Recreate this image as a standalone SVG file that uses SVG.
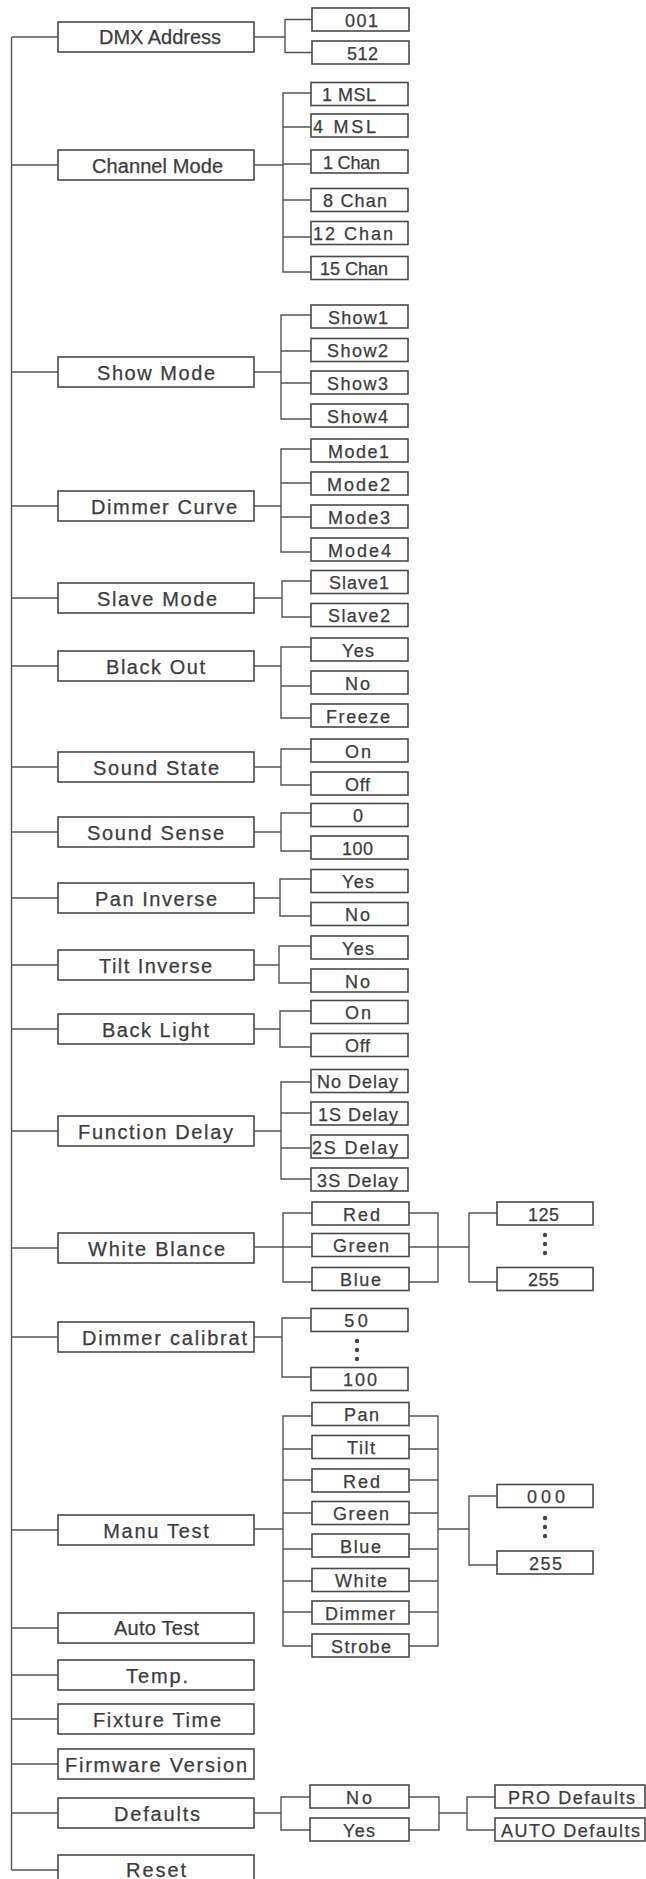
<svg xmlns="http://www.w3.org/2000/svg" width="646" height="1879" viewBox="0 0 646 1879">
<style>
.b{fill:#fff;stroke:#4a4a4a;stroke-width:1.6}
.c{fill:none;stroke:#555;stroke-width:1.4}
.t{font-family:"Liberation Sans",Arial,sans-serif;font-size:20px;fill:#3c3c3c;stroke:#3c3c3c;stroke-width:0.25;text-anchor:middle}
.s{font-size:18px}
.d{fill:#444}
</style>
<rect width="646" height="1879" fill="#fff"/>
<g id="connectors" class="c">
<path d="M11.5,37V1870"/>
<path d="M11.5,37H58M11.5,165H58M11.5,372H58M11.5,506H58M11.5,598H58M11.5,666H58M11.5,767H58M11.5,832H58M11.5,898H58M11.5,965H58M11.5,1029H58M11.5,1131H58M11.5,1248H58M11.5,1337H58M11.5,1530H58M11.5,1628H58M11.5,1675H58M11.5,1719H58M11.5,1764H58M11.5,1813H58M11.5,1870H58"/>
<path d="M254,37H285M312,19.5H285V52.5H312"/>
<path d="M254,165H283M311,93H283V272H311M283,127H311M283,164H311M283,200H311M283,237H311"/>
<path d="M254,372H281M311,315H281V419H311M281,351H311M281,383H311"/>
<path d="M254,506H281M311,449H281V552H311M281,483H311M281,517H311"/>
<path d="M254,598H282M311,581H282V617H311"/>
<path d="M254,666H281M311,647H281V718H311M281,686H311"/>
<path d="M254,767H281M311,749H281V785H311"/>
<path d="M254,832H281M311,813H281V851H311"/>
<path d="M254,898H280M311,879H280V916H311"/>
<path d="M254,965H279M311,946H279V983H311"/>
<path d="M254,1029H280M311,1011H280V1047H311"/>
<path d="M254,1131H281M311,1082H281V1179H311M281,1113H311M281,1148H311"/>
<path d="M254,1247H312M312,1213H283V1282H312"/>
<path d="M409,1213H438V1282H409M409,1247H469M497,1213H469V1282H497"/>
<path d="M254,1337H282M311,1318H282V1377H311"/>
<path d="M254,1529H283M312,1416H283V1646H312M283,1449H312M283,1480H312M283,1513H312M283,1549H312M283,1581H312M283,1612H312"/>
<path d="M409,1416H438V1646H409M409,1449H438M409,1480H438M409,1513H438M409,1549H438M409,1581H438M409,1612H438M438,1529H469M497,1496H469V1565H497"/>
<path d="M254,1813H281M310,1797H281V1830H310"/>
<path d="M409,1797H439V1830H409M439,1813H467M495,1797H467V1830H495"/>
</g>
<g id="n-dmx"><rect class="b" x="58" y="22" width="196" height="30"/><text class="t" x="160" y="44" font-size="17" textLength="122">DMX Address</text></g>
<g id="n-001"><rect class="b" x="312" y="8" width="97" height="23"/><text class="t s" x="361.5" y="26.5" textLength="33">001</text></g>
<g id="n-512"><rect class="b" x="312" y="41" width="97" height="23"/><text class="t s" x="362.5" y="59.5" textLength="31">512</text></g>
<g id="n-channel"><rect class="b" x="58" y="150" width="196" height="30"/><text class="t" x="157.5" y="172.5" textLength="131">Channel Mode</text></g>
<g id="n-1msl"><rect class="b" x="311" y="82.5" width="97" height="23"/><text class="t s" x="349" y="101" textLength="54">1 MSL</text></g>
<g id="n-4msl"><rect class="b" x="311" y="114" width="97" height="23"/><text class="t s" x="344.5" y="132.5" textLength="63">4 MSL</text></g>
<g id="n-1chan"><rect class="b" x="311" y="150" width="97" height="23"/><text class="t s" x="351.5" y="168.5" textLength="57">1 Chan</text></g>
<g id="n-8chan"><rect class="b" x="311" y="188.5" width="97" height="23"/><text class="t s" x="355" y="207" textLength="64">8 Chan</text></g>
<g id="n-12chan"><rect class="b" x="311" y="221.5" width="97" height="23"/><text class="t s" x="353" y="240" textLength="80">12 Chan</text></g>
<g id="n-15chan"><rect class="b" x="311" y="256.5" width="97" height="23"/><text class="t s" x="354" y="275" textLength="68">15 Chan</text></g>
<g id="n-show"><rect class="b" x="58" y="357" width="196" height="30"/><text class="t" x="156" y="379.5" textLength="118">Show Mode</text></g>
<g id="n-show1"><rect class="b" x="311" y="305" width="97" height="23"/><text class="t s" x="358" y="323.5" textLength="60">Show1</text></g>
<g id="n-show2"><rect class="b" x="311" y="338.5" width="97" height="23"/><text class="t s" x="357.5" y="357" textLength="61">Show2</text></g>
<g id="n-show3"><rect class="b" x="311" y="371" width="97" height="23"/><text class="t s" x="357.5" y="389.5" textLength="61">Show3</text></g>
<g id="n-show4"><rect class="b" x="311" y="404" width="97" height="23"/><text class="t s" x="357.5" y="422.5" textLength="61">Show4</text></g>
<g id="n-dimcurve"><rect class="b" x="58" y="491" width="196" height="30"/><text class="t" x="164" y="513.5" textLength="146">Dimmer Curve</text></g>
<g id="n-mode1"><rect class="b" x="311" y="439" width="97" height="23"/><text class="t s" x="358.5" y="457.5" textLength="61">Mode1</text></g>
<g id="n-mode2"><rect class="b" x="311" y="472" width="97" height="23"/><text class="t s" x="358.5" y="490.5" textLength="63">Mode2</text></g>
<g id="n-mode3"><rect class="b" x="311" y="505" width="97" height="23"/><text class="t s" x="359" y="523.5" textLength="62">Mode3</text></g>
<g id="n-mode4"><rect class="b" x="311" y="538" width="97" height="23"/><text class="t s" x="359.5" y="556.5" textLength="63">Mode4</text></g>
<g id="n-slave"><rect class="b" x="58" y="583" width="196" height="30"/><text class="t" x="157" y="605.5" textLength="120">Slave Mode</text></g>
<g id="n-slave1"><rect class="b" x="311" y="570.5" width="97" height="23"/><text class="t s" x="359" y="589" textLength="60">Slave1</text></g>
<g id="n-slave2"><rect class="b" x="311" y="603.5" width="97" height="23"/><text class="t s" x="359" y="622" textLength="62">Slave2</text></g>
<g id="n-blackout"><rect class="b" x="58" y="651" width="196" height="30"/><text class="t" x="155.5" y="673.5" textLength="99">Black Out</text></g>
<g id="n-bo-yes"><rect class="b" x="311" y="638" width="97" height="23"/><text class="t s" x="358" y="656.5" textLength="32">Yes</text></g>
<g id="n-bo-no"><rect class="b" x="311" y="671" width="97" height="23"/><text class="t s" x="357.5" y="689.5" textLength="25">No</text></g>
<g id="n-freeze"><rect class="b" x="311" y="704" width="97" height="23"/><text class="t s" x="358" y="722.5" textLength="64">Freeze</text></g>
<g id="n-soundstate"><rect class="b" x="58" y="752" width="196" height="30"/><text class="t" x="156" y="774.5" textLength="126">Sound State</text></g>
<g id="n-ss-on"><rect class="b" x="311" y="739" width="97" height="23"/><text class="t s" x="358" y="757.5" textLength="26">On</text></g>
<g id="n-ss-off"><rect class="b" x="311" y="772" width="97" height="23"/><text class="t s" x="357.5" y="790.5" textLength="25">Off</text></g>
<g id="n-soundsense"><rect class="b" x="58" y="817" width="196" height="30"/><text class="t" x="155.5" y="839.5" textLength="137">Sound Sense</text></g>
<g id="n-sen-0"><rect class="b" x="311" y="803.5" width="97" height="23"/><text class="t s" x="358" y="822" textLength="10">0</text></g>
<g id="n-sen-100"><rect class="b" x="311" y="836" width="97" height="23"/><text class="t s" x="357.5" y="854.5" textLength="31">100</text></g>
<g id="n-pan"><rect class="b" x="58" y="883" width="196" height="30"/><text class="t" x="156" y="905.5" textLength="122">Pan Inverse</text></g>
<g id="n-pan-yes"><rect class="b" x="311" y="869.5" width="97" height="23"/><text class="t s" x="358" y="888" textLength="32">Yes</text></g>
<g id="n-pan-no"><rect class="b" x="311" y="902.5" width="97" height="23"/><text class="t s" x="357.5" y="921" textLength="25">No</text></g>
<g id="n-tilt"><rect class="b" x="58" y="950" width="196" height="30"/><text class="t" x="155.5" y="972.5" textLength="113">Tilt Inverse</text></g>
<g id="n-tilt-yes"><rect class="b" x="311" y="936" width="97" height="23"/><text class="t s" x="358" y="954.5" textLength="32">Yes</text></g>
<g id="n-tilt-no"><rect class="b" x="311" y="969" width="97" height="23"/><text class="t s" x="357.5" y="987.5" textLength="25">No</text></g>
<g id="n-backlight"><rect class="b" x="58" y="1014" width="196" height="30"/><text class="t" x="155.5" y="1036.5" textLength="107">Back Light</text></g>
<g id="n-bl-on"><rect class="b" x="311" y="1000.5" width="97" height="23"/><text class="t s" x="358" y="1019" textLength="26">On</text></g>
<g id="n-bl-off"><rect class="b" x="311" y="1033.5" width="97" height="23"/><text class="t s" x="357.5" y="1052" textLength="25">Off</text></g>
<g id="n-fdelay"><rect class="b" x="58" y="1116" width="196" height="30"/><text class="t" x="155.5" y="1138.5" textLength="155">Function Delay</text></g>
<g id="n-nodelay"><rect class="b" x="311" y="1069.5" width="97" height="23"/><text class="t s" x="357.5" y="1088" textLength="81">No Delay</text></g>
<g id="n-1sdelay"><rect class="b" x="311" y="1102" width="97" height="23"/><text class="t s" x="358" y="1120.5" textLength="80">1S Delay</text></g>
<g id="n-2sdelay"><rect class="b" x="311" y="1135" width="97" height="23"/><text class="t s" x="355" y="1153.5" textLength="86">2S Delay</text></g>
<g id="n-3sdelay"><rect class="b" x="311" y="1168" width="97" height="23"/><text class="t s" x="357.5" y="1186.5" textLength="81">3S Delay</text></g>
<g id="n-wb"><rect class="b" x="58" y="1233" width="196" height="30"/><text class="t" x="156.5" y="1255.5" textLength="137">White Blance</text></g>
<g id="n-wb-red"><rect class="b" x="312" y="1202" width="97" height="23"/><text class="t s" x="361.5" y="1220.5" textLength="37">Red</text></g>
<g id="n-wb-green"><rect class="b" x="312" y="1233.5" width="97" height="23"/><text class="t s" x="361" y="1252" textLength="56">Green</text></g>
<g id="n-wb-blue"><rect class="b" x="312" y="1267.5" width="97" height="23"/><text class="t s" x="360.5" y="1286" textLength="41">Blue</text></g>
<g id="n-wb-125"><rect class="b" x="497" y="1202" width="96" height="23"/><text class="t s" x="543.5" y="1220.5" textLength="31">125</text></g>
<g id="n-wb-dots" class="d"><circle cx="545" cy="1235" r="2.2"/><circle cx="545" cy="1244" r="2.2"/><circle cx="545" cy="1253" r="2.2"/></g>
<g id="n-wb-255"><rect class="b" x="497" y="1267.5" width="96" height="23"/><text class="t s" x="543.5" y="1286" textLength="31">255</text></g>
<g id="n-dimcal"><rect class="b" x="58" y="1322" width="196" height="30"/><text class="t" x="164.5" y="1344.5" textLength="165">Dimmer calibrat</text></g>
<g id="n-dc-50"><rect class="b" x="311" y="1308.5" width="97" height="23"/><text class="t s" x="356" y="1327" textLength="23.5">50</text></g>
<g id="n-dc-dots" class="d"><circle cx="357" cy="1341" r="2.2"/><circle cx="357" cy="1350" r="2.2"/><circle cx="357" cy="1359" r="2.2"/></g>
<g id="n-dc-100"><rect class="b" x="311" y="1367.5" width="97" height="23"/><text class="t s" x="360" y="1386" textLength="34">100</text></g>
<g id="n-manu"><rect class="b" x="58" y="1515" width="196" height="30"/><text class="t" x="156" y="1537.5" textLength="105.5">Manu Test</text></g>
<g id="n-m-pan"><rect class="b" x="312" y="1402.5" width="97" height="23"/><text class="t s" x="361.5" y="1421" textLength="35">Pan</text></g>
<g id="n-m-tilt"><rect class="b" x="312" y="1435.5" width="97" height="23"/><text class="t s" x="361" y="1454" textLength="28">Tilt</text></g>
<g id="n-m-red"><rect class="b" x="312" y="1469" width="97" height="23"/><text class="t s" x="361.5" y="1487.5" textLength="37">Red</text></g>
<g id="n-m-green"><rect class="b" x="312" y="1501.5" width="97" height="23"/><text class="t s" x="361" y="1520" textLength="56">Green</text></g>
<g id="n-m-blue"><rect class="b" x="312" y="1534" width="97" height="23"/><text class="t s" x="360.5" y="1552.5" textLength="41">Blue</text></g>
<g id="n-m-white"><rect class="b" x="312" y="1568.5" width="97" height="23"/><text class="t s" x="361" y="1587" textLength="52">White</text></g>
<g id="n-m-dimmer"><rect class="b" x="312" y="1601" width="97" height="23"/><text class="t s" x="360" y="1619.5" textLength="70">Dimmer</text></g>
<g id="n-m-strobe"><rect class="b" x="312" y="1634" width="97" height="23"/><text class="t s" x="361" y="1652.5" textLength="60">Strobe</text></g>
<g id="n-m-000"><rect class="b" x="497" y="1484.5" width="96" height="23"/><text class="t s" x="546" y="1503" textLength="38">000</text></g>
<g id="n-m-dots" class="d"><circle cx="545" cy="1518" r="2.2"/><circle cx="545" cy="1527" r="2.2"/><circle cx="545" cy="1536" r="2.2"/></g>
<g id="n-m-255"><rect class="b" x="497" y="1551" width="96" height="23"/><text class="t s" x="545.5" y="1569.5" textLength="33">255</text></g>
<g id="n-auto"><rect class="b" x="58" y="1613" width="196" height="30"/><text class="t" x="156.5" y="1634.5" font-size="18" textLength="85">Auto Test</text></g>
<g id="n-temp"><rect class="b" x="58" y="1660" width="196" height="30"/><text class="t" x="157" y="1683" textLength="62">Temp.</text></g>
<g id="n-fixture"><rect class="b" x="58" y="1704" width="196" height="30"/><text class="t" x="157" y="1726.5" textLength="128">Fixture Time</text></g>
<g id="n-firmware"><rect class="b" x="58" y="1749" width="196" height="30"/><text class="t" x="156" y="1772" textLength="182">Firmware Version</text></g>
<g id="n-defaults"><rect class="b" x="58" y="1798" width="196" height="30"/><text class="t" x="157" y="1820.5" textLength="86">Defaults</text></g>
<g id="n-d-no"><rect class="b" x="310" y="1785" width="99" height="23"/><text class="t s" x="359" y="1803.5" textLength="26">No</text></g>
<g id="n-d-yes"><rect class="b" x="310" y="1818" width="99" height="23"/><text class="t s" x="359" y="1836.5" textLength="32">Yes</text></g>
<g id="n-pro"><rect class="b" x="495" y="1785" width="150" height="23"/><text class="t s" x="571.5" y="1803.5" textLength="127">PRO Defaults</text></g>
<g id="n-autodef"><rect class="b" x="495" y="1818" width="150" height="23"/><text class="t s" x="570.5" y="1836.5" textLength="139">AUTO Defaults</text></g>
<g id="n-reset"><rect class="b" x="58" y="1855" width="196" height="30"/><text class="t" x="156" y="1877" textLength="60">Reset</text></g>
</svg>
